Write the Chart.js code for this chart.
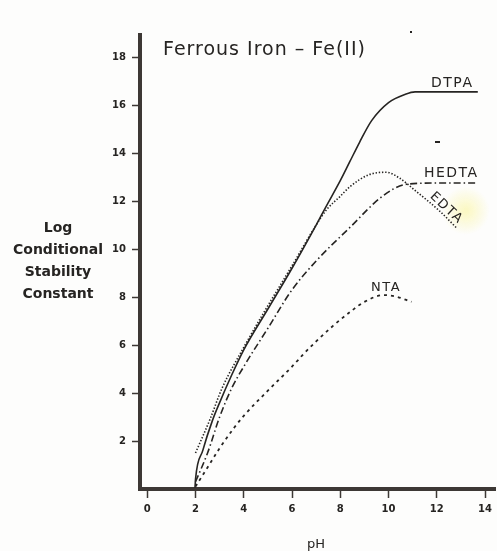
<!DOCTYPE html>
<html>
<head>
<meta charset="utf-8">
<script src="https://cdn.jsdelivr.net/npm/chart.js@4"></script>
<style>
  body { margin: 0; background: #fdfdfc; }
  #wrap { width: 497px; height: 551px; }
</style>
</head>
<body>
<div id="wrap"><canvas id="chart"></canvas></div>
<script>
// pH / log K readings for each chelate
const phDTPA = [1.98, 2, 2.3, 2.7, 3, 3.5, 4, 5, 6, 7, 7.4, 8, 8.4, 8.8, 9.3, 10, 10.7, 11.1, 12, 13, 13.7];
const logDTPA = [0.05, 0.4, 1.6, 2.85, 3.6, 4.75, 5.8, 7.5, 9.2, 11.0, 11.75, 12.85, 13.65, 14.45, 15.35, 16.1, 16.45, 16.55, 16.55, 16.55, 16.55];

const phEDTA = [2, 2.6, 3.1, 4, 4.8, 6, 7, 7.44, 8, 8.4, 9.2, 9.9, 10.45, 11.15, 12.1, 12.8];
const logEDTA = [1.5, 2.9, 4.2, 5.9, 7.3, 9.3, 11.0, 11.65, 12.2, 12.6, 13.1, 13.2, 12.96, 12.4, 11.6, 10.9];

const phHEDTA = [2, 2.5, 3, 3.5, 4, 5, 6, 7, 8.4, 9.75, 10.74, 12, 13.7];
const logHEDTA = [0.3, 1.5, 3.0, 4.2, 5.1, 6.7, 8.3, 9.5, 10.9, 12.2, 12.7, 12.75, 12.75];

const phNTA = [2, 2.5, 3, 3.6, 4, 5, 6, 6.5, 7, 7.7, 8.5, 9, 9.8, 10.3, 10.95];
const logNTA = [0.1, 0.9, 1.7, 2.55, 3.05, 4.1, 5.1, 5.65, 6.15, 6.8, 7.45, 7.8, 8.08, 8.02, 7.8];

const xTicks = [0, 2, 4, 6, 8, 10, 12, 14];
const yTicks = [2, 4, 6, 8, 10, 12, 14, 16, 18];

const ink = "#262422";
const axisInk = "#3d3835";

function pts(xs, ys) {
  return xs.map((v, i) => ({ x: v, y: ys[i] }));
}

function line(label, xs, ys, dash, width) {
  return {
    label,
    data: pts(xs, ys),
    showLine: true,
    borderColor: ink,
    borderWidth: width,
    borderDash: dash,
    pointRadius: 0,
    cubicInterpolationMode: "monotone",
    fill: false
  };
}

const texts = {
  id: "texts",
  beforeDatasetsDraw(chart) {
    const { ctx, scales: { x, y } } = chart;
    // yellow highlighter smear near the EDTA label
    const cx = x.getPixelForValue(13.2), cy = y.getPixelForValue(11.6);
    const g = ctx.createRadialGradient(cx, cy, 2, cx, cy, 24);
    g.addColorStop(0, "rgba(250,245,160,0.6)");
    g.addColorStop(1, "rgba(250,245,160,0)");
    ctx.save();
    ctx.fillStyle = g;
    ctx.fillRect(cx - 30, cy - 30, 60, 60);
    ctx.restore();
  },
  afterDraw(chart) {
    const { ctx, scales: { x, y } } = chart;
    ctx.save();
    ctx.fillStyle = ink;
    ctx.textBaseline = "middle";

    ctx.font = "19px 'DejaVu Sans'";
    ctx.letterSpacing = "1px";
    ctx.textAlign = "left";
    ctx.fillText("Ferrous Iron \u2013 Fe(II)", 163, 50);
    ctx.letterSpacing = "0px";

    ctx.font = "bold 14px 'DejaVu Sans'";
    ctx.textAlign = "center";
    ["Log", "Conditional", "Stability", "Constant"].forEach((t, i) => {
      ctx.fillText(t, 58, 228 + i * 22.2);
    });
    ctx.font = "13px 'DejaVu Sans'";
    ctx.fillText("pH", 316, 545);

    // stray scan specks
    ctx.fillRect(410, 31, 2, 2);
    ctx.fillRect(435, 141, 5, 2);

    ctx.font = "14px 'DejaVu Sans'";
    ctx.letterSpacing = "1.5px";
    ctx.fillText("DTPA", x.getPixelForValue(12.64), y.getPixelForValue(16.9));
    ctx.fillText("HEDTA", x.getPixelForValue(12.6), y.getPixelForValue(13.15));
    ctx.font = "13px 'DejaVu Sans'";
    ctx.fillText("NTA", x.getPixelForValue(9.9), y.getPixelForValue(8.4));

    ctx.translate(x.getPixelForValue(12.4), y.getPixelForValue(11.7));
    ctx.rotate(Math.PI / 4.2);
    ctx.fillText("EDTA", 0, 0);
    ctx.restore();
  }
};

new Chart(document.getElementById("chart"), {
  type: "scatter",
  data: {
    datasets: [
      line("DTPA", phDTPA, logDTPA, [], 1.6),
      line("EDTA", phEDTA, logEDTA, [1.4, 1.8], 1.6),
      line("HEDTA", phHEDTA, logHEDTA, [7, 3, 1.5, 3], 1.6),
      line("NTA", phNTA, logNTA, [3, 4], 1.8)
    ]
  },
  options: {
    responsive: true,
    maintainAspectRatio: false,
    animation: false,
    layout: { padding: { top: 35, right: 0, left: 0, bottom: 0 } },
    plugins: { legend: { display: false }, tooltip: { enabled: false } },
    scales: {
      x: {
        type: "linear",
        min: -0.3,
        max: 14.45,
        afterFit: s => { s.height = 62; },
        afterBuildTicks: s => { s.ticks = xTicks.map(v => ({ value: v })); },
        border: { display: true, width: 4, color: axisInk },
        grid: { drawOnChartArea: false, drawTicks: true, tickLength: 9, tickWidth: 1.5, tickColor: axisInk },
        ticks: { padding: 5, color: ink, font: { family: "'DejaVu Sans'", size: 10, weight: "bold" } }
      },
      y: {
        min: 0,
        max: 18.92,
        afterFit: s => { s.width = 140; },
        afterBuildTicks: s => { s.ticks = yTicks.map(v => ({ value: v })); },
        border: { display: true, width: 4, color: axisInk },
        grid: { drawOnChartArea: false, drawTicks: true, tickLength: 8, tickWidth: 1.5, tickColor: axisInk },
        ticks: { padding: 6, color: ink, font: { family: "'DejaVu Sans'", size: 10, weight: "bold" } }
      }
    }
  },
  plugins: [texts]
});
</script>
</body>
</html>
